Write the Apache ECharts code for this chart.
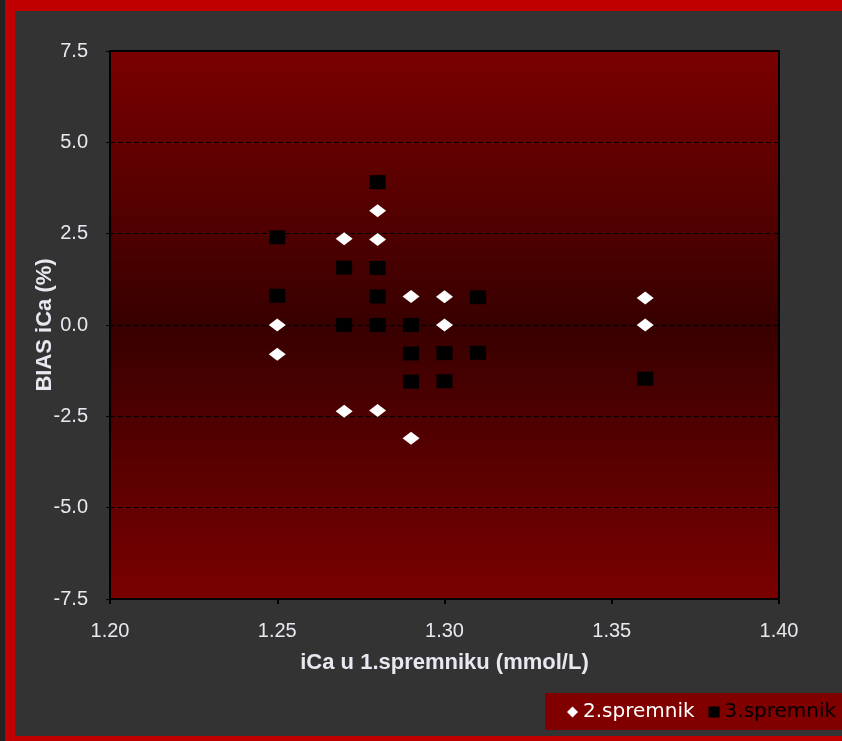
<!DOCTYPE html>
<html><head><meta charset="utf-8">
<script src="https://cdn.jsdelivr.net/npm/echarts@6/dist/echarts.min.js"></script>
<style>html,body{margin:0;padding:0;background:#333;}#c{width:842px;height:741px;}</style>
</head><body><div id="c"></div>
<script>
const xTicks = [1.20, 1.25, 1.30, 1.35, 1.40];
const yTicks = [-7.5, -5.0, -2.5, 0.0, 2.5, 5.0, 7.5];
const s2Name = '2.spremnik';
const s2x = [1.25, 1.25, 1.27, 1.27, 1.28, 1.28, 1.28, 1.29, 1.29, 1.30, 1.30, 1.36, 1.36];
const s2y = [0.00, -0.80, 2.36, -2.36, 3.13, 2.34, -2.34, 0.78, -3.10, 0.77, 0.00, 0.74, 0.00];
const s3Name = '3.spremnik';
const s3x = [1.25, 1.25, 1.27, 1.27, 1.28, 1.28, 1.28, 1.28, 1.29, 1.29, 1.29, 1.30, 1.30, 1.31, 1.31, 1.36];
const s3y = [2.40, 0.80, 1.57, 0.00, 3.91, 1.56, 0.78, 0.00, 0.00, -0.78, -1.55, -0.77, -1.54, 0.76, -0.76, -1.47];

const chart = echarts.init(document.getElementById('c'));
const font = '"Liberation Sans", Arial, sans-serif';
const legendFont = '"DejaVu Sans", Verdana, sans-serif';
chart.setOption({
  backgroundColor: '#333333',
  animation: false,
  graphic: [
    {type:'rect', shape:{x:0,y:0,width:5,height:741}, style:{fill:'#222222'}, z:0},
    {type:'rect', shape:{x:5,y:0,width:10,height:741}, style:{fill:'#c00000'}, z:0},
    {type:'rect', shape:{x:5,y:0,width:837,height:11}, style:{fill:'#c00000'}, z:0},
    {type:'rect', shape:{x:5,y:736,width:837,height:5}, style:{fill:'#c00000'}, z:0},
    {type:'rect', shape:{x:545,y:693,width:297,height:37}, style:{fill:'#800000'}, z:0}
  ],
  grid: {
    left: 110, right: 63, top: 51, bottom: 142,
    show: true,
    borderColor: '#000', borderWidth: 2,
    backgroundColor: new echarts.graphic.LinearGradient(0,0,0,1,[
      {offset:0, color:'#7a0000'},
      {offset:0.5, color:'#380000'},
      {offset:1, color:'#7a0000'}
    ])
  },
  xAxis: {
    type: 'value', min: xTicks[0], max: xTicks[xTicks.length-1], interval: 0.05,
    axisLine: {show: true, onZero: false, lineStyle:{color:'#000', width:2}},
    axisTick: {show: true, length: 5, lineStyle:{color:'#000', width:2}},
    splitLine: {show: false},
    axisLabel: {color:'#e8e8f0', fontFamily: font, fontSize: 20, margin: 22,
      formatter: v => v.toFixed(2)},
    name: 'iCa u 1.spremniku (mmol/L)', nameLocation: 'middle', nameGap: 53,
    nameMoveOverlap: false,
    nameTextStyle: {color:'#e8e8f0', fontFamily: font, fontSize: 22, fontWeight:'bold'}
  },
  yAxis: {
    type: 'value', min: yTicks[0], max: yTicks[yTicks.length-1], interval: 2.5,
    axisLine: {show: true, onZero: false, lineStyle:{color:'#000', width:2}},
    axisTick: {show: true, length: 4, lineStyle:{color:'#000', width:1}},
    splitLine: {show: true, lineStyle:{color:'#000', type:[5,3], width:1}},
    axisLabel: {color:'#e8e8f0', fontFamily: font, fontSize: 20, margin: 22,
      formatter: v => v.toFixed(1)},
    name: 'BIAS iCa (%)', nameLocation: 'middle', nameGap: 54,
    nameMoveOverlap: false,
    nameTextStyle: {color:'#e8e8f0', fontFamily: font, fontSize: 22, fontWeight:'bold'}
  },
  legend: {
    left: 545, top: 693, width: 297,
    padding: [9, 0, 9, 22],
    itemWidth: 11, itemHeight: 11, itemGap: 14,
    textStyle: {fontFamily: legendFont, fontSize: 20, padding:[0,0,0,0]},
    data: [
      {name: s2Name, icon: 'diamond', textStyle:{color:'#ffffff'}},
      {name: s3Name, icon: 'rect', textStyle:{color:'#000000'}}
    ]
  },
  series: [
    {name: s2Name, type:'scatter', symbol:'diamond', symbolSize:[17,13],
     itemStyle:{color:'#ffffff', opacity: 1}, z: 3,
     data: s2x.map((x,i)=>[x, s2y[i]])},
    {name: s3Name, type:'scatter', symbol:'rect', symbolSize:[16,14],
     itemStyle:{color:'#000000', opacity: 1}, z: 2,
     data: s3x.map((x,i)=>[x, s3y[i]])}
  ]
});
</script></body></html>
